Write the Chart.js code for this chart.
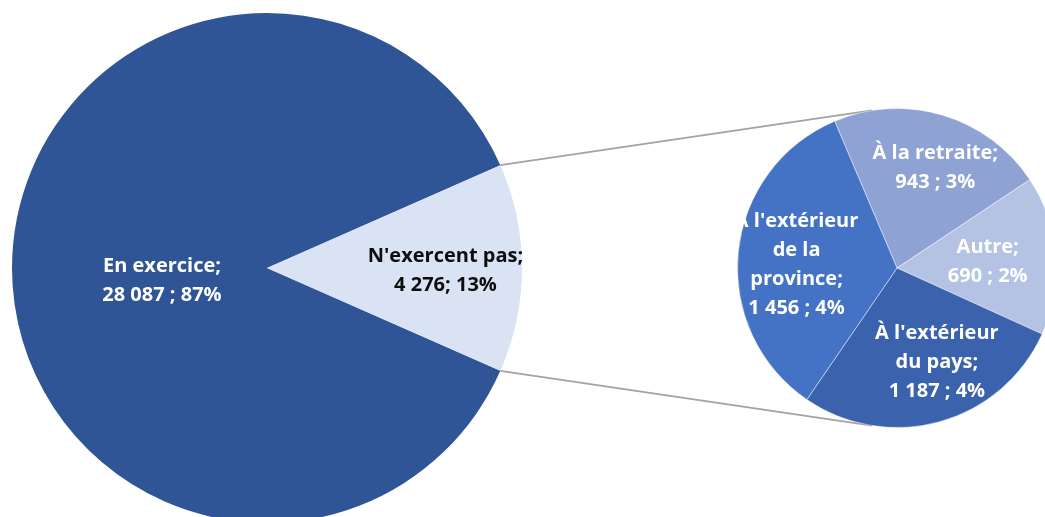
<!DOCTYPE html>
<html lang="fr">
<head>
<meta charset="utf-8">
<title>Situation des membres</title>
<script src="https://cdn.jsdelivr.net/npm/chart.js@4.4.1/dist/chart.umd.min.js"></script>
<style>
  html, body { margin: 0; padding: 0; background: #fff; overflow: hidden; width: 1045px; height: 517px; }
  #main-wrap { position: absolute; left: 12px; top: 13px; width: 1033px; height: 510px; z-index: 1; }
  #sub-wrap { position: absolute; left: 737px; top: 108px; width: 320px; height: 320px; z-index: 2; }
</style>
</head>
<body>
<div id="main-wrap"><canvas id="mainChart"></canvas></div>
<div id="sub-wrap"><canvas id="subChart"></canvas></div>
<script>
// Main pie: active vs not active
const mainLabels = [['En exercice;'], ["N'exercent pas;"]];
const mainValues = [28087, 4276];
const mainSeparators = [' ; ', '; '];

// Breakdown of "N'exercent pas"
const subLabels = [['À la retraite;'], ['Autre;'], ["À l'extérieur", 'du pays;'], ["À l'extérieur", 'de la', 'province;']];
const subValues = [943, 690, 1187, 1456];
const subSeparators = [' ; ', ' ; ', ' ; ', ' ; '];

const grandTotal = mainValues[0] + mainValues[1];

// label anchors: [fraction of radius, angle in degrees (0 = 3 o'clock, clockwise)]
const mainPlacement = [[0.415, 173], [0.70, 1]];
const subPlacement = [[0.67, -69], [0.57, -4], [0.64, 67], [0.63, 182]];

const FONT = 'bold 20px "Open Sans", "Liberation Sans", sans-serif';
const LINE_HEIGHT = 29;

function formatNumber(v) {
    return String(v).replace(/\B(?=(\d{3})+(?!\d))/g, ' ');
}

function buildLines(names, values, seps) {
    return values.map((v, i) => {
        const pct = Math.round(v / grandTotal * 100);
        return names[i].concat(formatNumber(v) + seps[i] + pct + '%');
    });
}

// draws the multi-line label of each slice
function sliceLabels(lines, placement, colors) {
    return {
        id: 'sliceLabels',
        afterDatasetsDraw(chart) {
            const ctx = chart.ctx;
            const arcs = chart.getDatasetMeta(0).data;
            ctx.save();
            ctx.font = FONT;
            ctx.textAlign = 'center';
            ctx.textBaseline = 'middle';
            arcs.forEach((arc, i) => {
                const [f, deg] = placement[i];
                const a = deg * Math.PI / 180;
                const cx = arc.x + Math.cos(a) * arc.outerRadius * f;
                const cy = arc.y + Math.sin(a) * arc.outerRadius * f;
                const block = lines[i];
                ctx.fillStyle = colors[i];
                block.forEach((t, k) => {
                    ctx.fillText(t, cx, cy + (k - (block.length - 1) / 2) * LINE_HEIGHT);
                });
            });
            ctx.restore();
        }
    };
}

const subChart = new Chart(document.getElementById('subChart'), {
    type: 'pie',
    data: {
        labels: subLabels.map(l => l.join(' ')),
        datasets: [{
            data: subValues,
            backgroundColor: ['#8FA2D4', '#B4C2E3', '#3B63AD', '#4472C4'],
            borderColor: 'rgba(255,255,255,0.45)',
            borderWidth: 1
        }]
    },
    options: {
        responsive: true,
        maintainAspectRatio: false,
        animation: false,
        events: [],
        rotation: -23,
        layout: { padding: 0 },
        plugins: { legend: { display: false }, tooltip: { enabled: false } }
    },
    plugins: [sliceLabels(buildLines(subLabels, subValues, subSeparators), subPlacement,
        ['#fff', '#fff', '#fff', '#fff'])]
});

// grey lines joining the "N'exercent pas" slice to the breakdown pie
const connectors = {
    id: 'connectors',
    afterDraw(chart) {
        const light = chart.getDatasetMeta(0).data[1];
        const sub = subChart.getDatasetMeta(0).data[0];
        if (!light || !sub) return;
        const a = chart.canvas.getBoundingClientRect();
        const b = subChart.canvas.getBoundingClientRect();
        const sx = sub.x + b.left - a.left;
        const sy = sub.y + b.top - a.top;
        const tilt = 99 * Math.PI / 180;
        const ends = [
            [light.startAngle, -tilt],
            [light.endAngle, tilt]
        ];
        const ctx = chart.ctx;
        ctx.save();
        ctx.strokeStyle = '#A3A3A3';
        ctx.lineWidth = 1.7;
        ends.forEach(([from, to]) => {
            ctx.beginPath();
            ctx.moveTo(light.x + Math.cos(from) * light.outerRadius, light.y + Math.sin(from) * light.outerRadius);
            ctx.lineTo(sx + Math.cos(to) * sub.outerRadius, sy + Math.sin(to) * sub.outerRadius);
            ctx.stroke();
        });
        ctx.restore();
    }
};

new Chart(document.getElementById('mainChart'), {
    type: 'pie',
    data: {
        labels: mainLabels.map(l => l.join(' ')),
        datasets: [{
            data: mainValues,
            backgroundColor: ['#2F5597', '#DAE3F3'],
            borderWidth: 0
        }]
    },
    options: {
        responsive: true,
        maintainAspectRatio: false,
        animation: false,
        events: [],
        rotation: 90 + 180 * mainValues[1] / grandTotal,
        layout: { padding: { left: 0, top: 0, bottom: 0, right: 523 } },
        plugins: { legend: { display: false }, tooltip: { enabled: false } }
    },
    plugins: [sliceLabels(buildLines(mainLabels, mainValues, mainSeparators), mainPlacement,
        ['#fff', '#0D0D0D']), connectors]
});
</script>
</body>
</html>
